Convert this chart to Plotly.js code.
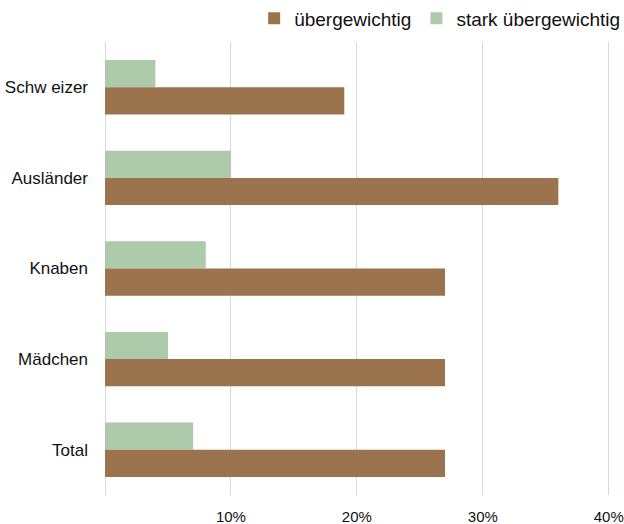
<!DOCTYPE html>
<html>
<head>
<meta charset="utf-8">
<script src="https://cdn.plot.ly/plotly-3.0.1.min.js"></script>
<style>html,body{margin:0;padding:0;background:#fff;}#chart{width:624px;height:524px;}</style>
</head>
<body>
<div id="chart"></div>
<script>
const categories = ["Schweizer", "Ausländer", "Knaben", "Mädchen", "Total"];
const categoryLabels = ["Schw eizer", "Ausländer", "Knaben", "Mädchen", "Total"];
const uebergewichtig = [19, 36, 27, 27, 27];
const starkUebergewichtig = [4, 10, 8, 5, 7];
const tickValues = [10, 20, 30, 40];
const tickLabels = ["10%", "20%", "30%", "40%"];

const traces = [
  {
    type: "bar", orientation: "h", name: "stark übergewichtig",
    y: categories, x: starkUebergewichtig,
    marker: {color: "#adcaab"}, hoverinfo: "none"
  },
  {
    type: "bar", orientation: "h", name: "übergewichtig",
    y: categories, x: uebergewichtig,
    marker: {color: "#9b744d"}, hoverinfo: "none"
  }
];

const layout = {
  width: 624, height: 524,
  margin: {l: 105, r: 14, t: 42, b: 29, autoexpand: false},
  paper_bgcolor: "#fff", plot_bgcolor: "#fff",
  font: {family: "Liberation Sans, Arial, sans-serif", color: "#111"},
  barmode: "group", bargap: 0.4, bargroupgap: 0,
  showlegend: true,
  legend: {
    orientation: "h", traceorder: "reversed",
    x: 1.03, xanchor: "right", y: 1.01, yanchor: "bottom",
    font: {size: 19, color: "#111"}, bgcolor: "rgba(0,0,0,0)"
  },
  xaxis: {
    range: [0, 40.1], tickvals: tickValues, ticktext: tickLabels,
    showgrid: true, gridcolor: "#d0dce2", gridwidth: 1,
    zeroline: true, zerolinecolor: "#d0dce2", zerolinewidth: 1,
    showline: false, ticks: "", ticklabelstandoff: 11,
    tickfont: {size: 15, color: "#111"}, fixedrange: true
  },
  yaxis: {
    type: "category", categoryorder: "array", categoryarray: categories,
    tickvals: categories, ticktext: categoryLabels,
    autorange: "reversed", showgrid: false, zeroline: false, showline: false,
    ticks: "", ticklabelstandoff: 16,
    tickfont: {size: 17, color: "#111"}, fixedrange: true
  }
};

Plotly.newPlot("chart", traces, layout, {displayModeBar: false, staticPlot: true});
</script>
</body>
</html>
